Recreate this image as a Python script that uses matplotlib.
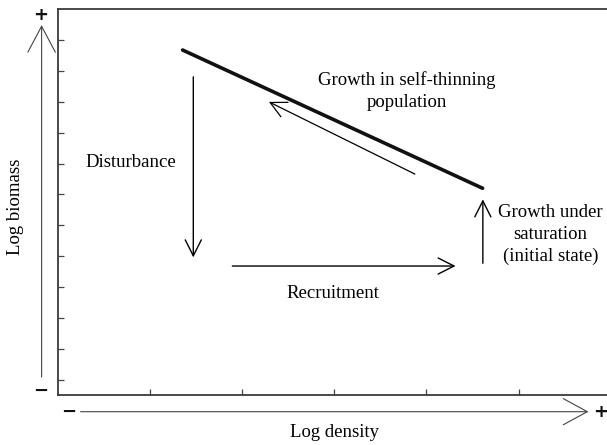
import matplotlib
matplotlib.use("Agg")
import matplotlib.pyplot as plt
from matplotlib.patches import FancyArrowPatch

# ---- data (axis units: log density, log biomass) ----
thinning_x = [1.353, 4.61]
thinning_y = [11.18, 6.70]

growth_thin_x = [3.875, 2.29]     # tail -> tip
growth_thin_y = [7.16, 9.50]
disturb_x = [1.469, 1.469]
disturb_y = [10.31, 4.46]
recruit_x = [1.893, 4.317]
recruit_y = [4.18, 4.18]
saturation_x = [4.613, 4.613]
saturation_y = [4.27, 6.34]

x_ticks = [1, 2, 3, 4, 5]
y_ticks = [0.5 + k for k in range(12)]

labels = {
    "thin": "Growth in self-thinning\npopulation",
    "dist": "Disturbance",
    "recr": "Recruitment",
    "sat": "Growth under\nsaturation\n(initial state)",
}
xlabel = "Log density"
ylabel = "Log biomass"

# ---- figure ----
W, H = 607, 445
fig = plt.figure(figsize=(W / 100, H / 100), dpi=100)
plt.rcParams['font.family'] = ['Liberation Serif', 'DejaVu Serif']

ax = fig.add_axes([58 / W, 50 / H, 552.6 / W, 385.7 / H])
ax.set_xlim(0, 6)
ax.set_ylim(0, 12.5)
ax.set_xticks(x_ticks)
ax.set_yticks(y_ticks)
ax.tick_params(direction='in', length=4.3, width=0.9, color='#444444',
               labelbottom=False, labelleft=False)
for s in ax.spines.values():
    s.set_linewidth(1.3)
    s.set_color('#3a3a3a')

ax.plot(thinning_x, thinning_y, color='#111111', lw=2.6, solid_capstyle='round')

def arrow(xs, ys, hl, hw, lw, color='black', clip=True):
    p = FancyArrowPatch((xs[0], ys[0]), (xs[1], ys[1]),
                        arrowstyle=f"->,head_length={hl},head_width={hw}",
                        mutation_scale=1, lw=lw, color=color,
                        shrinkA=0, shrinkB=0, clip_on=clip)
    ax.add_patch(p)

arrow(growth_thin_x, growth_thin_y, 11.5, 5.8, 0.9)
arrow(disturb_x, disturb_y, 11.5, 5.8, 1.0)
arrow(recruit_x, recruit_y, 11.5, 5.8, 1.0)
arrow(saturation_x, saturation_y, 11.5, 5.8, 1.0)

# axis arrows outside the box
arrow([-0.178, -0.178], [0.583, 11.99], 18.7, 9.9, 0.8, color='#444444', clip=False)
arrow([0.245, 5.76], [-0.541, -0.541], 17.3, 9.4, 0.8, color='#444444', clip=False)

fs = 13.5
ax.text(3.79, 9.85, labels["thin"], ha='center', va='center', fontsize=fs, linespacing=1.33)
ax.text(0.788, 7.55, labels["dist"], ha='center', va='center', fontsize=fs)
ax.text(2.99, 3.30, labels["recr"], ha='center', va='center', fontsize=fs)
ax.text(5.345, 5.20, labels["sat"], ha='center', va='center', fontsize=fs, linespacing=1.38)
ax.text(3.0, -1.23, xlabel, ha='center', va='center', fontsize=fs, clip_on=False)
ax.text(-0.46, 6.09, ylabel, ha='center', va='center', fontsize=fs, rotation=90, clip_on=False)

sign_kw = dict(ha='center', va='center', fontsize=13, fontweight='bold',
               family='DejaVu Sans', clip_on=False, color='#111111')
ax.text(-0.19, 12.31, "+", **sign_kw)
ax.text(5.89, -0.55, "+", **sign_kw)
ax.text(-0.183, 0.13, "\u2212", **sign_kw)
ax.text(0.115, -0.55, "\u2212", **sign_kw)

fig.savefig("out.png", dpi=100)
